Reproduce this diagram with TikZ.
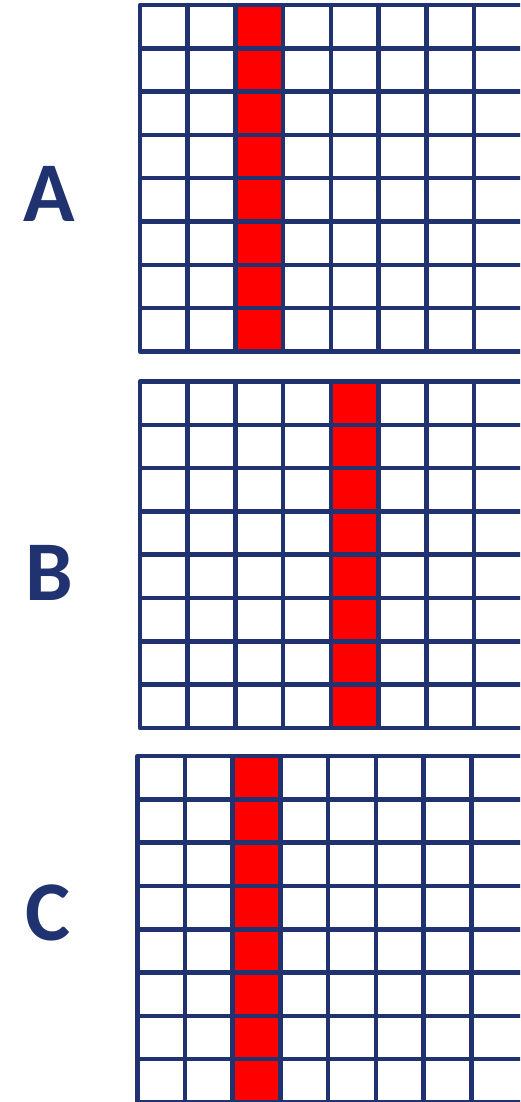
\documentclass[tikz,border=0pt]{standalone}
\usepackage{fontspec}
\setmainfont{Carlito}
\usepackage{tikz}
\usetikzlibrary{positioning}
\usepackage{xcolor}
\definecolor{gridnavy}{RGB}{32,51,112}
\definecolor{markred}{RGB}{255,0,0}
% grid with one red column: #1 = left x, #2 = top y, #3 = red column index
\newcommand{\cellgrid}[3]{%
  \fill[redcol] ({#1+#3*47.7},#2) rectangle ({#1+(#3+1)*47.7},{#2+8*43.3});
  \foreach \r in {1,...,7}
    \draw[gridline] (#1,{#2+\r*43.3}) -- (530,{#2+\r*43.3});
  \foreach \c in {1,...,7}
    \draw[gridline] ({#1+\c*47.7},#2) -- ({#1+\c*47.7},{#2+8*43.3});
  \draw[gridline] (530,#2) -- (#1,#2) -- (#1,{#2+8*43.3}) -- (530,{#2+8*43.3});
}

\begin{document}
\begin{tikzpicture}[
  x=1pt, y=-1pt,
  gridline/.style={draw=gridnavy, line width=4.6pt, line join=round},
  redcol/.style={fill=markred},
  letter/.style={text=gridnavy, font=\fontsize{85}{85}\selectfont\bfseries,
                 inner sep=0pt, anchor=base}
]
\useasboundingbox (0,0) rectangle (520,1102);
\clip (0,0) rectangle (520,1102);

%--- Grids ---
\cellgrid{140}{5}{2}
\cellgrid{140}{381.5}{4}
\cellgrid{137.3}{756}{2}

%--- Labels ---
\node[letter] (labelA) at (49.5,221.5) {A};
\node[letter] (labelB) at (49.5,600)   {B};
\node[letter] (labelC) at (48,940.5)   {C};

\end{tikzpicture}
\end{document}
